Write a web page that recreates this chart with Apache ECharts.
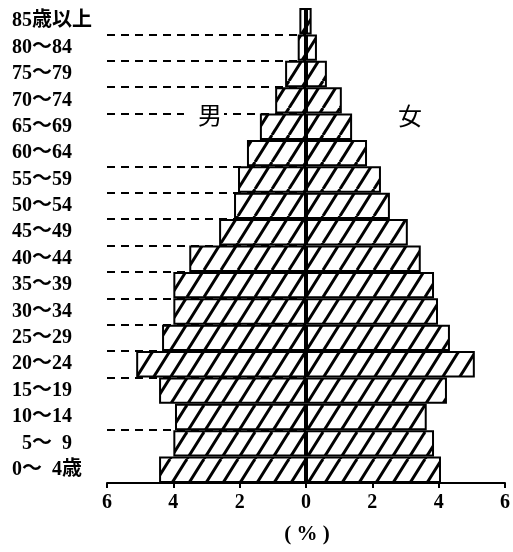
<!DOCTYPE html>
<html>
<head>
<meta charset="utf-8">
<script src="https://cdn.jsdelivr.net/npm/echarts@6/dist/echarts.min.js"></script>
<style>
html, body { margin: 0; padding: 0; background: #fff; }
#chart { width: 513px; height: 552px; }
</style>
</head>
<body>
<div id="chart"></div>
<script>
// age groups, bottom to top
const ageGroups = ['0～  4歳', '  5～  9', '10～14', '15～19', '20～24', '25～29', '30～34', '35～39',
    '40～44', '45～49', '50～54', '55～59', '60～64', '65～69', '70～74', '75～79', '80～84', '85歳以上'];
// percent of population
const male = [4.43, 4.0, 3.95, 4.43, 5.12, 4.34, 4.0, 4.0, 3.52, 2.62, 2.17, 2.05, 1.78, 1.39, 0.93, 0.63, 0.25, 0.2];
const female = [4.07, 3.86, 3.64, 4.25, 5.09, 4.34, 3.98, 3.86, 3.46, 3.07, 2.53, 2.26, 1.84, 1.39, 1.08, 0.63, 0.33, 0.17];
// groups whose lower edge gets a dashed guide on the left
const guideRows = [1, 2, 4, 5, 6, 7, 8, 9, 10, 11, 12, 14, 15, 16, 17];

const labelFont = {
    color: '#000',
    fontSize: 20,
    fontWeight: 'bold',
    fontFamily: '"Liberation Serif", "Noto Sans CJK JP", serif'
};

// diagonal hatch tile
function hatch() {
    const w = 17, h = 27;
    const c = document.createElement('canvas');
    c.width = w; c.height = h;
    const ctx = c.getContext('2d');
    ctx.strokeStyle = '#000';
    ctx.lineWidth = 3;
    for (let k = -1; k <= 1; k++) {
        ctx.beginPath();
        ctx.moveTo(k * w, h);
        ctx.lineTo(k * w + w, 0);
        ctx.stroke();
    }
    return { image: c, repeat: 'repeat' };
}

const myChart = echarts.init(document.getElementById('chart'));
const pattern = hatch();

const axisCommon = {
    type: 'value',
    min: 0,
    max: 6,
    interval: 2,
    splitLine: { show: false },
    axisLine: { show: true, lineStyle: { color: '#000', width: 2 } },
    axisTick: { show: true, length: 5, lineStyle: { color: '#000', width: 2 } },
    axisLabel: Object.assign({ margin: 10 }, labelFont)
};

const barStyle = {
    color: pattern,
    borderColor: '#000',
    borderWidth: 2
};

const option = {
    animation: false,
    backgroundColor: '#fff',
    grid: [
        { left: 107, width: 199, top: 8, bottom: 69 },
        { left: 306, width: 199, top: 8, bottom: 69 }
    ],
    xAxis: [
        Object.assign({ gridIndex: 0, inverse: true }, axisCommon),
        Object.assign({}, axisCommon, {
            gridIndex: 1,
            axisLabel: Object.assign({ margin: 10, showMinLabel: false }, labelFont)
        })
    ],
    yAxis: [
        {
            type: 'category',
            gridIndex: 0,
            data: ageGroups,
            axisLine: { show: false },
            axisTick: { show: false },
            axisLabel: Object.assign({ align: 'left', margin: 95, interval: 0, hideOverlap: false }, labelFont),
            splitLine: {
                show: true,
                showMinLine: false,
                showMaxLine: false,
                interval: function (index) { return guideRows.indexOf(index) >= 0; },
                lineStyle: { color: '#000', width: 2, type: [8, 6] }
            }
        },
        {
            type: 'category',
            gridIndex: 1,
            data: ageGroups,
            show: false
        }
    ],
    series: [
        {
            name: '男',
            type: 'bar',
            xAxisIndex: 0,
            yAxisIndex: 0,
            barWidth: '100%',
            itemStyle: barStyle,
            data: male
        },
        {
            name: '女',
            type: 'bar',
            xAxisIndex: 1,
            yAxisIndex: 1,
            barWidth: '100%',
            itemStyle: barStyle,
            data: female
        }
    ],
    graphic: [
        {
            type: 'text', x: 184, y: 115, z: 10,
            style: {
                text: '男', fill: '#000', font: '24px "Noto Sans CJK JP"',
                align: 'left', verticalAlign: 'middle',
                backgroundColor: '#fff', padding: [3, 2, 3, 14]
            }
        },
        {
            type: 'text', x: 410, y: 116, z: 10,
            style: {
                text: '女', fill: '#000', font: '24px "Noto Sans CJK JP"',
                align: 'center', verticalAlign: 'middle'
            }
        },
        {
            type: 'text', x: 307, y: 535, z: 10,
            style: {
                text: '( % )', fill: '#000', font: 'bold 21px "Liberation Serif"',
                align: 'center', verticalAlign: 'middle'
            }
        }
    ]
};

myChart.setOption(option, true);
window.addEventListener('resize', function () {
    myChart.resize();
});
</script>
</body>
</html>
